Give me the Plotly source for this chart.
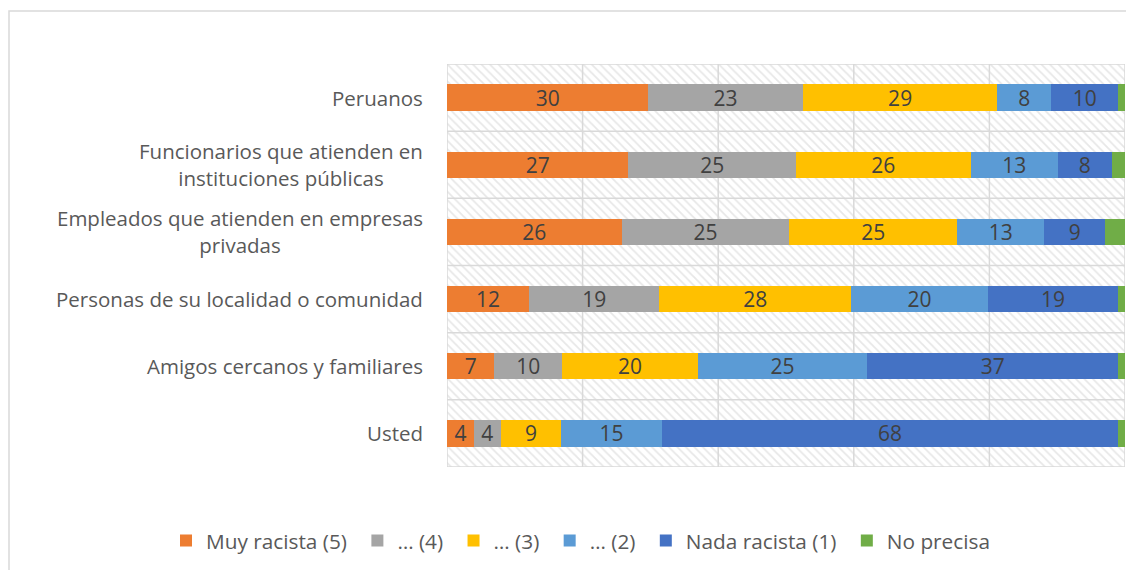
import plotly.graph_objects as go

# ---- data ----
categories = [
    "Peruanos",
    "Funcionarios que atienden en<br>instituciones públicas",
    "Empleados que atienden en empresas<br>privadas",
    "Personas de su localidad o comunidad",
    "Amigos cercanos y familiares",
    "Usted",
]
series_names = ["Muy racista (5)", "… (4)", "… (3)", "… (2)", "Nada racista (1)", "No precisa"]
muy_racista = [30, 27, 26, 12, 7, 4]
nivel_4 = [23, 25, 25, 19, 10, 4]
nivel_3 = [29, 26, 25, 28, 20, 9]
nivel_2 = [8, 13, 13, 20, 25, 15]
nada_racista = [10, 8, 9, 19, 37, 68]
no_precisa = [1, 2, 3, 1, 1, 1]
x_ticks = [0, 20, 40, 60, 80, 100]

series_values = [muy_racista, nivel_4, nivel_3, nivel_2, nada_racista, no_precisa]
colors = ["#ED7D31", "#A5A5A5", "#FFC000", "#5B9BD5", "#4472C4", "#70AD47"]
show_text = [True, True, True, True, True, False]

FONT = "Open Sans"
GRID = "#D9D9D9"
n = len(categories)
y_lo, y_hi = -0.5, n - 0.5
x_lo, x_hi = x_ticks[0], x_ticks[-1]

# page has an 8px body margin: figure is 8px smaller, coordinates shifted by 8
W, H = 1126, 562
L, R, T, B = 439, 9, 56, 103
PW, PH = W - L - R, H - T - B

fig = go.Figure()

# hatched plot-area background (main axes)
fig.add_trace(go.Scatter(
    x=[x_lo, x_hi, x_hi, x_lo, x_lo],
    y=[y_lo, y_lo, y_hi, y_hi, y_lo],
    mode="lines", line=dict(width=0), fill="toself",
    fillcolor="white",
    fillpattern=dict(shape="\\", fgcolor="#D0D0D0", bgcolor="white", size=6, solidity=0.3),
    hoverinfo="skip", showlegend=False, xaxis="x", yaxis="y",
))

# gridlines (drawn above the hatch, below the bars)
gx, gy = [], []
for t in x_ticks:
    gx += [t, t, None]
    gy += [y_lo, y_hi, None]
for k in range(n + 1):
    yy = y_lo + k
    gx += [x_lo, x_hi, None]
    gy += [yy, yy, None]
fig.add_trace(go.Scatter(
    x=gx, y=gy, mode="lines", line=dict(color=GRID, width=1.5),
    hoverinfo="skip", showlegend=False, xaxis="x", yaxis="y",
))

# stacked 100% bars on overlaying axes
for name, vals, col, st in zip(series_names, series_values, colors, show_text):
    fig.add_trace(go.Bar(
        y=categories, x=vals, name=name + "\u00a0", orientation="h",
        marker=dict(color=col, line=dict(width=0)),
        text=[str(v) for v in vals] if st else None,
        texttemplate="%{text}" if st else None,
        textposition="inside" if st else "none",
        insidetextanchor="middle",
        textangle=0,
        constraintext="none",
        textfont=dict(family=FONT, size=21, color="#404040"),
        xaxis="x2", yaxis="y2",
    ))

# category labels as annotations (centered multi-line, right-anchored)
annotations = []
for i, cat in enumerate(categories):
    annotations.append(dict(
        x=-22 / PW, xref="paper", y=n - 1 - i, yref="y",
        text=cat, showarrow=False, xanchor="right", yanchor="middle",
        align="center", font=dict(family=FONT, size=20.5, color="#595959"),
    ))

fig.update_layout(
    width=W, height=H,
    margin=dict(l=L, r=R, t=T, b=B, autoexpand=False),
    paper_bgcolor="white", plot_bgcolor="white",
    barmode="stack", barnorm="percent", bargap=0.61,
    xaxis=dict(range=[x_lo, x_hi], visible=False, fixedrange=True),
    yaxis=dict(range=[y_lo, y_hi], visible=False, fixedrange=True),
    xaxis2=dict(range=[x_lo, x_hi], overlaying="x", visible=False),
    yaxis2=dict(type="category", categoryorder="array",
                categoryarray=categories[::-1], range=[y_lo, y_hi],
                overlaying="y", visible=False),
    annotations=annotations,
    showlegend=True,
    legend=dict(orientation="h", xref="paper", yref="paper",
                x=(158 - L) / PW, y=(T + PH - 533) / PH,
                xanchor="left", yanchor="middle",
                font=dict(family=FONT, size=20.8, color="#595959"),
                traceorder="normal", itemclick=False, bgcolor="rgba(0,0,0,0)"),
    shapes=[dict(type="rect", xref="paper", yref="paper",
                 x0=(1 - L) / PW, x1=(W + 10 - L) / PW,
                 y0=(T + PH - (H + 10)) / PH, y1=1 + (T - 3) / PH,
                 line=dict(color=GRID, width=1.5), layer="below")],
)

fig.write_html("out.html")
